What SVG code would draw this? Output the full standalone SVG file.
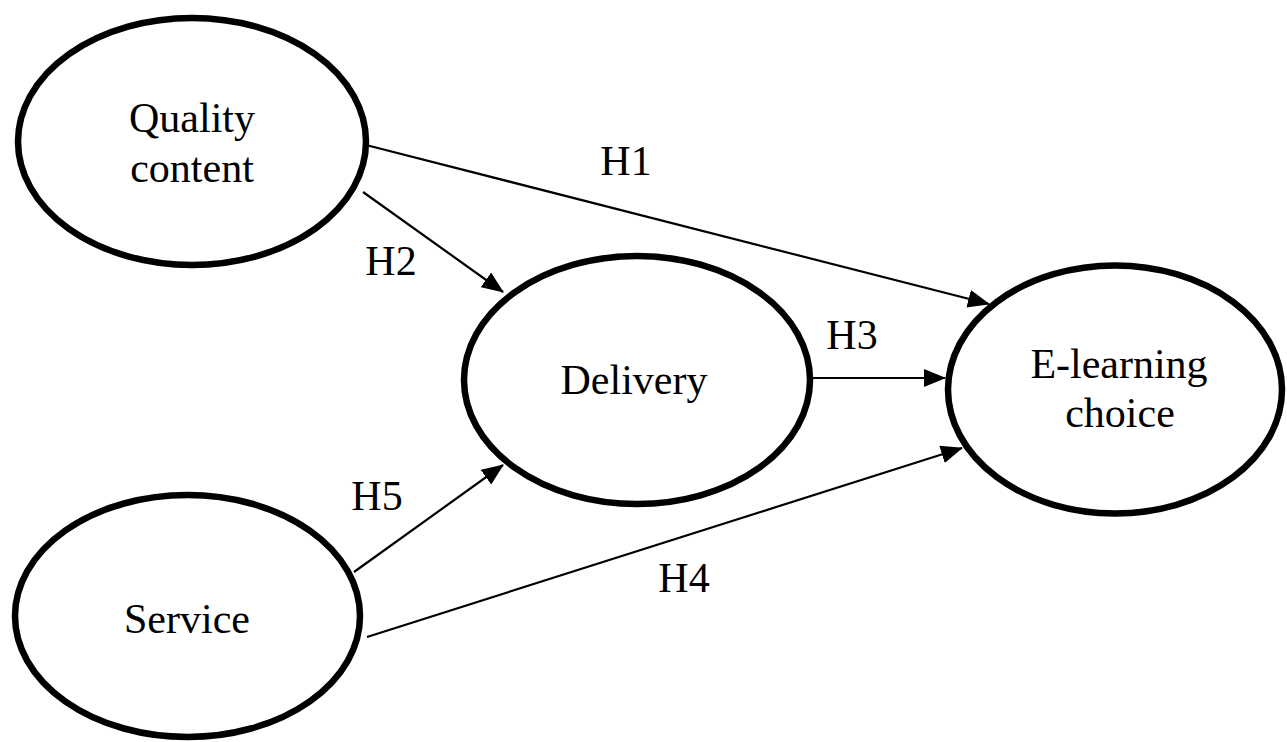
<svg xmlns="http://www.w3.org/2000/svg" width="1287" height="742" viewBox="0 0 1287 742">
  <defs>
    <marker id="arrow" viewBox="0 0 22 18" refX="21" refY="9" markerWidth="22" markerHeight="18" markerUnits="userSpaceOnUse" orient="auto">
      <path d="M0,0 L22,9 L0,18 Z" fill="#000"/>
    </marker>
    <style>
      .node ellipse { fill: #fff; stroke: #000; stroke-width: 6.5; }
      text { font-family: "Liberation Serif", "Times New Roman", serif; font-size: 42px; fill: #000; text-anchor: middle; }
      .edge { stroke: #000; stroke-width: 2.2; fill: none; marker-end: url(#arrow); }
    </style>
  </defs>
  <rect width="1287" height="742" fill="#fff"/>

  <!-- connectors -->
  <g id="connectors">
    <line class="edge" x1="366" y1="145" x2="989" y2="304"/>
    <line class="edge" x1="363" y1="192" x2="503" y2="292"/>
    <line class="edge" x1="813" y1="378" x2="945" y2="378"/>
    <line class="edge" x1="367" y1="637" x2="962" y2="448"/>
    <line class="edge" x1="354" y1="572" x2="503" y2="465"/>
    <text x="626" y="175">H1</text>
    <text x="391" y="275">H2</text>
    <text x="852" y="349">H3</text>
    <text x="684" y="592">H4</text>
    <text x="377" y="510">H5</text>
  </g>

  <!-- nodes -->
  <g id="quality-content" class="node">
    <ellipse cx="192" cy="141.5" rx="174" ry="123.5"/>
    <text x="192" y="132">Quality</text>
    <text x="192" y="182">content</text>
  </g>
  <g id="delivery" class="node">
    <ellipse cx="637" cy="380" rx="173" ry="124"/>
    <text x="634" y="394">Delivery</text>
  </g>
  <g id="e-learning-choice" class="node">
    <ellipse cx="1115" cy="389.5" rx="167" ry="124"/>
    <text x="1119" y="378">E-learning</text>
    <text x="1120" y="427">choice</text>
  </g>
  <g id="service" class="node">
    <ellipse cx="187.5" cy="616" rx="172.5" ry="121"/>
    <text x="187" y="633">Service</text>
  </g>
</svg>
